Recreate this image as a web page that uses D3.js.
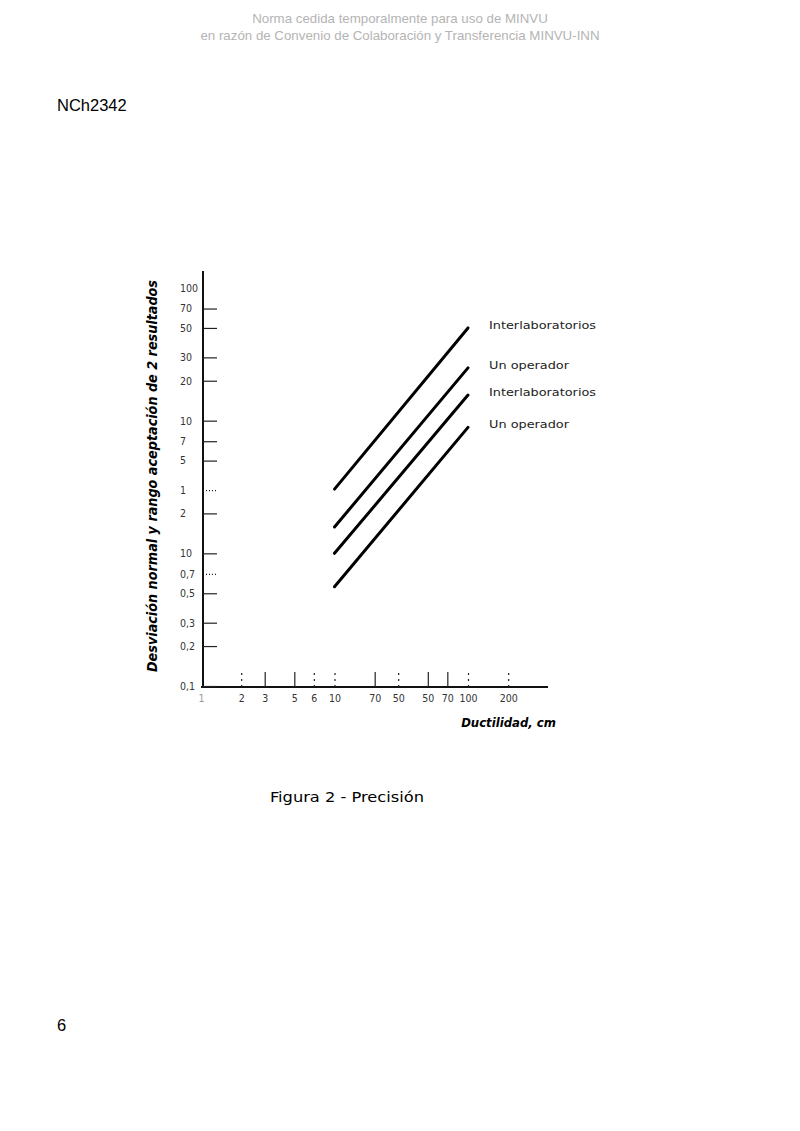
<!DOCTYPE html>
<html lang="es">
<head>
    <meta charset="UTF-8">
    <title>NCh2342 - Figura 2</title>
    <script src="https://d3js.org/d3.v7.min.js"></script>
    <style>
        body { margin: 0; background: #fff; }
    </style>
</head>
<body>

    <script>
        // Data
        const xTicks = [2, 3, 5, 7, 10, 20, 30, 50, 70, 100, 200];
        const xTickLabels = ['2', '3', '5', '6', '10', '70', '50', '50', '70', '100', '200'];
        const yTicks = [100, 70, 50, 30, 20, 10, 7, 5, 3, 2, 1, 0.7, 0.5, 0.3, 0.2, 0.1];
        const yTickLabels = ['100', '70', '50', '30', '20', '10', '7', '5', '1', '2', '10', '0,7', '0,5', '0,3', '0,2', '0,1'];

        const seriesNames = ['Interlaboratorios', 'Un operador', 'Interlaboratorios', 'Un operador'];
        const ductility = [10, 100];
        const interlab1 = [3.05, 50];
        const oneOp1 = [1.58, 25];
        const interlab2 = [1.0, 15.6];
        const oneOp2 = [0.56, 8.9];
        const seriesValues = [interlab1, oneOp1, interlab2, oneOp2];

        const W = 800, H = 1131;
        const svg = d3.select('body')
            .append('svg')
            .attr('width', W)
            .attr('height', H);

        // Page header (watermark) and page texts
        const header = svg.append('g')
            .attr('font-family', 'Liberation Sans, Arial, sans-serif')
            .attr('font-size', 13.3)
            .attr('fill', '#b4b4b4')
            .attr('text-anchor', 'middle');
        header.append('text').attr('x', 400).attr('y', 23)
            .text('Norma cedida temporalmente para uso de MINVU');
        header.append('text').attr('x', 400).attr('y', 40)
            .text('en razón de Convenio de Colaboración y Transferencia MINVU-INN');

        svg.append('text')
            .attr('x', 57).attr('y', 111)
            .attr('font-family', 'Liberation Sans, Arial, sans-serif')
            .attr('font-size', 16.5)
            .text('NCh2342');

        svg.append('text')
            .attr('x', 57).attr('y', 1031)
            .attr('font-family', 'Liberation Sans, Arial, sans-serif')
            .attr('font-size', 16.5)
            .text('6');

        // Scales (log-log)
        const xScale = d3.scaleLog()
            .domain([1, 100])
            .range([201, 468]);

        const yScale = d3.scaleLog()
            .domain([0.1, 100])
            .range([686, 288]);

        const axisX = 203;
        const axisY = 687;
        const thinFont = 'DejaVu Sans Condensed, DejaVu Sans, sans-serif';

        // Axis lines
        svg.append('line')
            .attr('x1', axisX).attr('x2', axisX)
            .attr('y1', 271).attr('y2', axisY)
            .attr('stroke', '#111').attr('stroke-width', 2);
        svg.append('line')
            .attr('x1', axisX - 2).attr('x2', 548)
            .attr('y1', axisY).attr('y2', axisY)
            .attr('stroke', '#111').attr('stroke-width', 2);

        // Y axis ticks (pointing right, labels on the left)
        const yAxis = svg.append('g')
            .attr('transform', 'translate(' + axisX + ',0)')
            .call(d3.axisLeft(yScale)
                .tickValues(yTicks)
                .tickSizeInner(-14)
                .tickSizeOuter(0)
                .tickFormat((d, i) => yTickLabels[i]));
        yAxis.select('.domain').remove();
        yAxis.selectAll('.tick line')
            .attr('stroke', '#222')
            .attr('stroke-width', 1.2)
            .attr('stroke-dasharray', d => (d === 3 || d === 0.7) ? '1,2' : null)
            .attr('opacity', d => d === 100 ? 0 : 1);
        yAxis.selectAll('.tick text')
            .attr('x', -23)
            .attr('text-anchor', 'start')
            .attr('font-family', thinFont)
            .attr('font-size', 10.5)
            .attr('fill', '#333');

        // X axis ticks (pointing up, labels below)
        const xAxis = svg.append('g')
            .attr('transform', 'translate(0,' + axisY + ')')
            .call(d3.axisBottom(xScale)
                .tickValues([1].concat(xTicks))
                .tickSizeInner(-15)
                .tickSizeOuter(0)
                .tickPadding(8)
                .tickFormat((d, i) => i === 0 ? '1' : xTickLabels[i - 1]));
        xAxis.select('.domain').remove();
        xAxis.selectAll('.tick line')
            .attr('stroke', '#222')
            .attr('stroke-width', 1.2)
            .attr('stroke-dasharray', d => [2, 7, 10, 30, 100, 200].includes(d) ? '2,4' : null)
            .attr('opacity', d => d === 1 ? 0 : 1);
        xAxis.selectAll('.tick text')
            .attr('font-family', thinFont)
            .attr('font-size', 10.5)
            .attr('fill', '#333')
            .attr('opacity', d => d === 1 ? 0.5 : 1);

        // Precision lines
        const line = d3.line()
            .x((d, i) => xScale(ductility[i]))
            .y(d => yScale(d));

        svg.selectAll('path.series')
            .data(seriesValues)
            .enter()
            .append('path')
            .attr('class', 'series')
            .attr('d', d => line(d))
            .attr('fill', 'none')
            .attr('stroke', '#000')
            .attr('stroke-width', 3)
            .attr('stroke-linecap', 'round');

        // Series labels at line ends
        svg.selectAll('text.series-label')
            .data(seriesValues)
            .enter()
            .append('text')
            .attr('class', 'series-label')
            .attr('x', 489)
            .attr('y', d => yScale(d[1]) + 1)
            .attr('font-family', thinFont)
            .attr('font-size', 11)
            .attr('fill', '#222')
            .attr('textLength', (d, i) => i % 2 === 0 ? 107 : 80)
            .attr('lengthAdjust', 'spacingAndGlyphs')
            .text((d, i) => seriesNames[i]);

        // Axis titles
        svg.append('text')
            .attr('transform', 'translate(157,476) rotate(-90)')
            .attr('text-anchor', 'middle')
            .attr('font-family', thinFont)
            .attr('font-weight', 'bold')
            .attr('font-style', 'italic')
            .attr('font-size', 13.5)
            .attr('textLength', 392)
            .attr('lengthAdjust', 'spacingAndGlyphs')
            .text('Desviación normal y rango aceptación de 2 resultados');

        svg.append('text')
            .attr('x', 556).attr('y', 727)
            .attr('text-anchor', 'end')
            .attr('font-family', thinFont)
            .attr('font-weight', 'bold')
            .attr('font-style', 'italic')
            .attr('font-size', 13)
            .text('Ductilidad, cm');

        // Caption
        svg.append('text')
            .attr('x', 270).attr('y', 802)
            .attr('font-family', thinFont)
            .attr('font-size', 14)
            .attr('textLength', 154)
            .attr('lengthAdjust', 'spacingAndGlyphs')
            .text('Figura 2 - Precisión');
    </script>

</body>
</html>
